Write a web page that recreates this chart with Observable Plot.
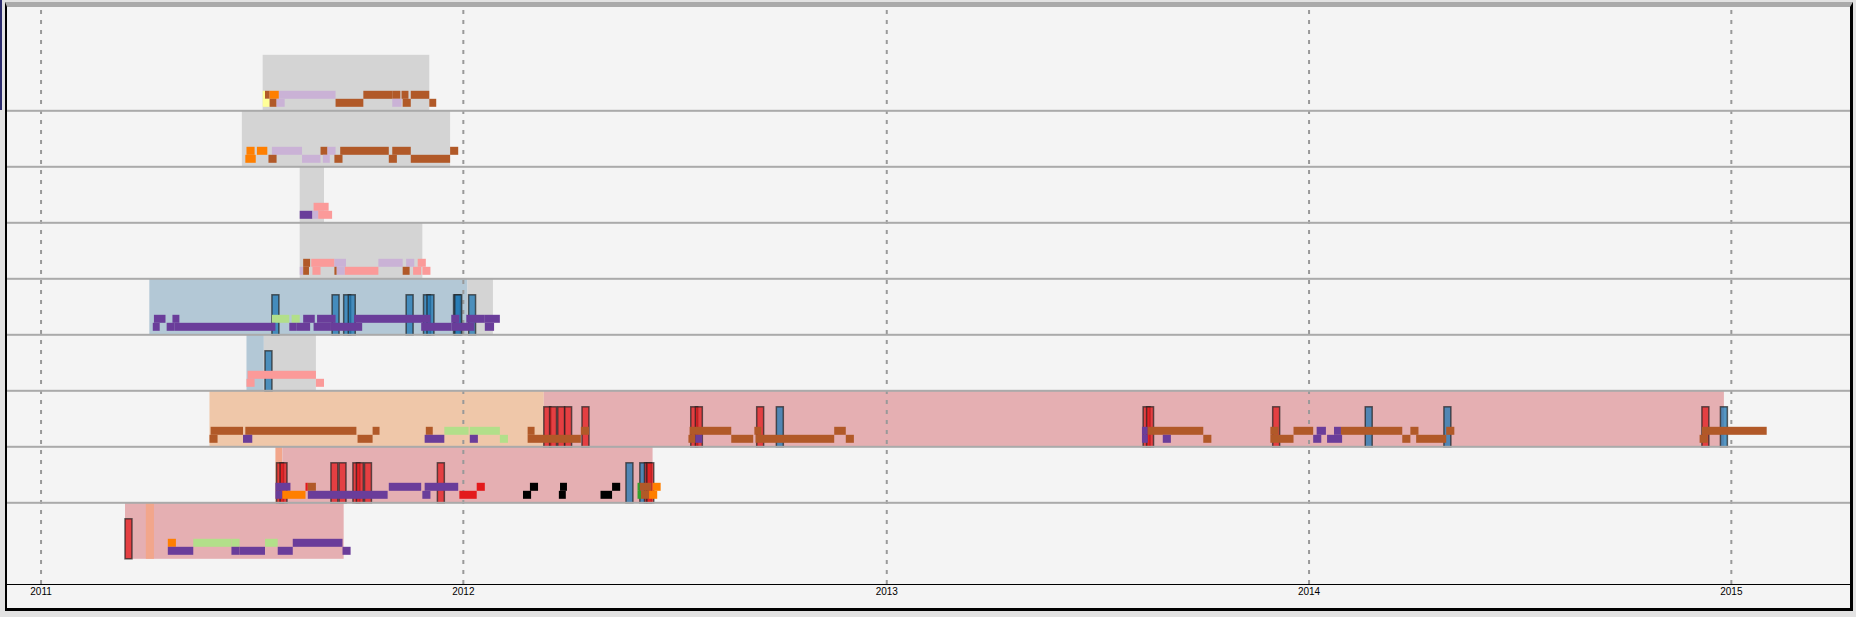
<!DOCTYPE html>
<html><head><meta charset="utf-8">
<script src="https://cdn.jsdelivr.net/npm/d3@7"></script>
<script src="https://cdn.jsdelivr.net/npm/@observablehq/plot@0.6"></script>
<style>
html,body{margin:0;padding:0;background:#e2e2e2;width:1856px;height:617px;overflow:hidden;}
#box{position:absolute;left:5px;top:2px;width:1843px;height:601px;border-top:5px solid #aaa;border-left:2px solid #000;border-right:3px solid #000;border-bottom:3px solid #000;background:#f4f4f4;}
#edge{position:absolute;left:0;top:0;width:2px;height:110px;background:#2c2c6e;}
#chart svg{display:block}
</style></head><body>
<div id="edge"></div>
<div id="box"><div id="chart"></div></div>
<script>
// ---- data ----
const rows = ["P1","P2","P3","P4","P5","P6","P7","P8","P9"];
const rowBoundaries = ["P1","P2","P3","P4","P5","P6","P7","P8"];
const xDomain = ["2010-12-03","2015-04-14"];
const yearTicks = ["2011-01-01","2012-01-01","2013-01-01","2014-01-01","2015-01-01"];

const spanKinds  = ["inactive","blue","peach","pink","salmon"];
const spanColors = ["#d4d4d4","#b3c8d6","#efc7a9","#e5afb2","#f2a68b"];
const eventKinds  = ["red","blue"];
const eventColors = ["#e31a1c","#1f78b4"];
const medKinds  = ["brown","orange","lavender","pink","purple","lightgreen","red","black","green","yellow"];
const medColors = ["#b15928","#ff7f00","#cab2d6","#fb9a99","#6a3d9a","#b2df8a","#e31a1c","#000000","#33a02c","#ffff99"];

// [row, start, end, kind]
const spans = [
  ["P1","2011-07-12","2011-12-03","inactive"],
  ["P2","2011-06-24","2011-12-21","inactive"],
  ["P3","2011-08-13","2011-09-03","inactive"],
  ["P4","2011-08-13","2011-11-27","inactive"],
  ["P5","2011-04-05","2012-01-05","blue"],
  ["P5","2012-01-05","2012-01-27","inactive"],
  ["P6","2011-06-28","2011-07-13","blue"],
  ["P6","2011-07-13","2011-08-27","inactive"],
  ["P7","2011-05-27","2012-03-11","peach"],
  ["P7","2012-03-11","2014-12-26","pink"],
  ["P8","2011-07-23","2011-07-29","salmon"],
  ["P8","2011-07-29","2012-06-13","pink"],
  ["P9","2011-03-15","2011-09-20","pink"],
  ["P9","2011-04-02","2011-04-09","salmon"]
];

// [row, date, kind]
const events = [
  ["P5","2011-07-20","blue"],["P5","2011-09-10","blue"],["P5","2011-09-20","blue"],["P5","2011-09-24","blue"],
  ["P5","2011-11-13","blue"],["P5","2011-11-28","blue"],["P5","2011-12-01","blue"],["P5","2011-12-24","blue"],
  ["P5","2011-12-25","blue"],["P5","2012-01-06","blue"],
  ["P6","2011-07-14","blue"],
  ["P7","2012-03-11","red"],["P7","2012-03-16","red"],["P7","2012-03-23","red"],["P7","2012-03-29","red"],
  ["P7","2012-04-13","red"],["P7","2012-07-16","red"],["P7","2012-07-20","red"],["P7","2012-09-11","red"],
  ["P7","2012-09-28","blue"],["P7","2013-08-11","red"],["P7","2013-08-14","red"],["P7","2013-12-01","red"],
  ["P7","2014-02-19","blue"],["P7","2014-04-28","blue"],["P7","2014-12-07","red"],["P7","2014-12-23","blue"],
  ["P8","2011-07-24","red"],["P8","2011-07-27","red"],["P8","2011-09-09","red"],["P8","2011-09-16","red"],
  ["P8","2011-09-28","red"],["P8","2011-10-01","red"],["P8","2011-10-08","red"],["P8","2011-12-10","red"],
  ["P8","2012-05-21","blue"],["P8","2012-06-02","blue"],["P8","2012-06-06","red"],["P8","2012-06-08","red"],
  ["P9","2011-03-15","red"]
];

// [row, lane (0 upper / 1 lower), start, end, kind]
const meds = [
  ["P1",0,"2011-07-12","2011-07-14","yellow"],["P1",0,"2011-07-14","2011-07-18","brown"],["P1",0,"2011-07-18","2011-07-26","orange"],
  ["P1",0,"2011-07-26","2011-09-13","lavender"],["P1",0,"2011-10-07","2011-11-01","brown"],["P1",0,"2011-11-01","2011-11-08","brown"],
  ["P1",0,"2011-11-09","2011-11-15","brown"],["P1",0,"2011-11-17","2011-12-03","brown"],
  ["P1",1,"2011-07-12","2011-07-18","yellow"],["P1",1,"2011-07-18","2011-07-24","brown"],["P1",1,"2011-07-24","2011-07-31","lavender"],
  ["P1",1,"2011-09-13","2011-10-07","brown"],["P1",1,"2011-11-01","2011-11-09","lavender"],["P1",1,"2011-11-10","2011-11-17","brown"],
  ["P1",1,"2011-12-03","2011-12-09","brown"],

  ["P2",0,"2011-06-28","2011-07-05","orange"],["P2",0,"2011-07-07","2011-07-16","orange"],["P2",0,"2011-07-20","2011-08-15","lavender"],
  ["P2",0,"2011-08-31","2011-09-06","brown"],["P2",0,"2011-09-06","2011-09-13","lavender"],["P2",0,"2011-09-17","2011-10-29","brown"],
  ["P2",0,"2011-11-01","2011-11-17","brown"],["P2",0,"2011-12-21","2011-12-28","brown"],
  ["P2",1,"2011-06-27","2011-07-06","orange"],["P2",1,"2011-07-17","2011-07-24","brown"],["P2",1,"2011-08-15","2011-08-31","lavender"],
  ["P2",1,"2011-09-02","2011-09-08","lavender"],["P2",1,"2011-09-12","2011-09-19","brown"],["P2",1,"2011-10-29","2011-11-05","brown"],
  ["P2",1,"2011-11-17","2011-12-21","brown"],

  ["P3",0,"2011-08-25","2011-09-07","pink"],
  ["P3",1,"2011-08-13","2011-08-24","purple"],["P3",1,"2011-08-24","2011-08-29","lavender"],["P3",1,"2011-08-29","2011-09-10","pink"],

  ["P4",0,"2011-08-16","2011-08-22","brown"],["P4",0,"2011-08-23","2011-09-12","pink"],["P4",0,"2011-09-12","2011-09-22","lavender"],
  ["P4",0,"2011-10-20","2011-11-10","lavender"],["P4",0,"2011-11-13","2011-11-20","lavender"],["P4",0,"2011-11-23","2011-11-30","pink"],
  ["P4",1,"2011-08-13","2011-08-16","lavender"],["P4",1,"2011-08-16","2011-08-21","brown"],["P4",1,"2011-08-24","2011-08-31","pink"],
  ["P4",1,"2011-09-12","2011-09-14","brown"],["P4",1,"2011-09-14","2011-09-21","lavender"],["P4",1,"2011-09-21","2011-10-20","pink"],
  ["P4",1,"2011-11-10","2011-11-16","brown"],["P4",1,"2011-11-19","2011-11-26","pink"],["P4",1,"2011-11-27","2011-12-04","pink"],

  ["P5",0,"2011-04-09","2011-04-19","purple"],["P5",0,"2011-04-25","2011-05-01","purple"],["P5",0,"2011-07-20","2011-08-04","lightgreen"],
  ["P5",0,"2011-08-06","2011-08-13","lightgreen"],["P5",0,"2011-08-16","2011-08-26","purple"],["P5",0,"2011-08-28","2011-09-13","purple"],
  ["P5",0,"2011-09-29","2011-12-04","purple"],["P5",0,"2011-12-22","2011-12-29","purple"],["P5",0,"2012-01-04","2012-01-20","purple"],
  ["P5",0,"2012-01-20","2012-02-02","purple"],
  ["P5",1,"2011-04-08","2011-04-14","purple"],["P5",1,"2011-04-20","2011-04-27","purple"],["P5",1,"2011-04-27","2011-07-23","purple"],
  ["P5",1,"2011-08-04","2011-08-10","purple"],["P5",1,"2011-08-10","2011-08-22","purple"],["P5",1,"2011-08-25","2011-09-09","purple"],
  ["P5",1,"2011-09-09","2011-10-06","purple"],["P5",1,"2011-11-26","2011-12-22","purple"],["P5",1,"2011-12-22","2012-01-11","purple"],
  ["P5",1,"2012-01-20","2012-01-28","purple"],

  ["P6",0,"2011-06-29","2011-08-27","pink"],
  ["P6",1,"2011-06-28","2011-07-05","pink"],["P6",1,"2011-08-27","2011-09-03","pink"],

  ["P7",0,"2011-05-28","2011-06-25","brown"],["P7",0,"2011-06-27","2011-10-01","brown"],["P7",0,"2011-10-15","2011-10-21","brown"],
  ["P7",0,"2011-11-30","2011-12-06","brown"],["P7",0,"2011-12-16","2012-01-06","lightgreen"],["P7",0,"2012-01-07","2012-02-02","lightgreen"],
  ["P7",0,"2012-02-26","2012-03-03","brown"],["P7",0,"2012-04-12","2012-04-19","brown"],["P7",0,"2012-07-15","2012-08-20","brown"],
  ["P7",0,"2012-09-09","2012-09-15","brown"],["P7",0,"2012-11-17","2012-11-27","brown"],["P7",0,"2013-08-10","2013-08-15","purple"],
  ["P7",0,"2013-08-15","2013-10-02","brown"],["P7",0,"2013-11-29","2013-12-06","brown"],["P7",0,"2013-12-19","2014-01-05","brown"],
  ["P7",0,"2014-01-08","2014-01-16","purple"],["P7",0,"2014-01-23","2014-01-29","purple"],["P7",0,"2014-01-29","2014-03-23","brown"],
  ["P7",0,"2014-03-30","2014-04-06","brown"],["P7",0,"2014-04-30","2014-05-07","brown"],["P7",0,"2014-12-07","2015-02-01","brown"],
  ["P7",1,"2011-05-27","2011-06-03","brown"],["P7",1,"2011-06-25","2011-07-03","purple"],["P7",1,"2011-10-02","2011-10-15","brown"],
  ["P7",1,"2011-11-29","2011-12-16","purple"],["P7",1,"2012-01-07","2012-01-14","purple"],["P7",1,"2012-02-02","2012-02-09","lightgreen"],
  ["P7",1,"2012-02-26","2012-04-12","brown"],["P7",1,"2012-07-14","2012-07-20","brown"],["P7",1,"2012-07-20","2012-07-26","purple"],
  ["P7",1,"2012-08-20","2012-09-08","brown"],["P7",1,"2012-09-10","2012-11-17","brown"],["P7",1,"2012-11-27","2012-12-04","brown"],
  ["P7",1,"2013-08-10","2013-08-15","purple"],["P7",1,"2013-08-28","2013-09-04","purple"],["P7",1,"2013-10-02","2013-10-09","brown"],
  ["P7",1,"2013-11-29","2013-12-19","brown"],["P7",1,"2014-01-05","2014-01-12","purple"],["P7",1,"2014-01-17","2014-01-30","purple"],
  ["P7",1,"2014-03-23","2014-03-30","brown"],["P7",1,"2014-04-04","2014-04-30","brown"],["P7",1,"2014-12-05","2014-12-12","brown"],

  ["P8",0,"2011-07-23","2011-08-05","purple"],["P8",0,"2011-08-18","2011-08-20","red"],["P8",0,"2011-08-20","2011-08-27","brown"],
  ["P8",0,"2011-10-29","2011-11-26","purple"],["P8",0,"2011-11-29","2011-12-28","purple"],["P8",0,"2012-01-13","2012-01-20","red"],
  ["P8",0,"2012-02-28","2012-03-06","black"],["P8",0,"2012-03-25","2012-03-31","black"],["P8",0,"2012-05-09","2012-05-16","black"],
  ["P8",0,"2012-05-31","2012-06-02","green"],["P8",0,"2012-06-02","2012-06-12","brown"],["P8",0,"2012-06-13","2012-06-20","orange"],
  ["P8",1,"2011-07-23","2011-07-29","purple"],["P8",1,"2011-07-29","2011-08-18","orange"],["P8",1,"2011-08-20","2011-10-28","purple"],
  ["P8",1,"2011-11-27","2011-12-04","purple"],["P8",1,"2011-12-29","2012-01-13","red"],["P8",1,"2012-02-22","2012-02-29","black"],
  ["P8",1,"2012-03-24","2012-03-30","black"],["P8",1,"2012-04-29","2012-05-09","black"],["P8",1,"2012-05-31","2012-06-03","green"],
  ["P8",1,"2012-06-03","2012-06-10","brown"],["P8",1,"2012-06-10","2012-06-17","orange"],

  ["P9",0,"2011-04-21","2011-04-28","orange"],["P9",0,"2011-05-13","2011-06-15","lightgreen"],["P9",0,"2011-06-15","2011-06-22","lightgreen"],
  ["P9",0,"2011-07-14","2011-07-25","lightgreen"],["P9",0,"2011-08-07","2011-09-19","purple"],
  ["P9",1,"2011-04-21","2011-05-13","purple"],["P9",1,"2011-06-15","2011-06-22","purple"],["P9",1,"2011-06-22","2011-07-14","purple"],
  ["P9",1,"2011-07-25","2011-08-07","purple"],["P9",1,"2011-09-19","2011-09-26","purple"]
];

// ---- build tables ----
const D = s => new Date(s + "T00:00:00Z");
const spanData = spans.map(([row, s, e, kind]) => ({row, start: D(s), end: D(e), key: "span:" + kind}));
const eventData = events.map(([row, d, kind]) => ({row, date: D(d), end: d3.utcDay.offset(D(d), 6), key: "event:" + kind}));
const medData = meds.map(([row, lane, s, e, kind]) => ({row, lane, start: D(s), end: D(e), key: "med:" + kind}));

const colorDomain = [...spanKinds.map(k => "span:" + k), ...eventKinds.map(k => "event:" + k), ...medKinds.map(k => "med:" + k)];
const colorRange = [...spanColors, ...eventColors, ...medColors];

const chart = Plot.plot({
  width: 1843,
  height: 601,
  marginLeft: 0, marginRight: 0, marginTop: 0, marginBottom: 24,
  style: {background: "#f4f4f4", fontFamily: "'Liberation Sans', Arial, sans-serif", fontSize: "10px", color: "#000", overflow: "visible"},
  x: {type: "utc", domain: xDomain.map(D), ticks: yearTicks.map(D), tickFormat: d3.utcFormat("%Y"), tickSize: 0, tickPadding: 3, line: true, label: null},
  y: {type: "band", domain: rows, range: [47.8, 551.8], padding: 0, round: false, axis: null},
  color: {type: "ordinal", domain: colorDomain, range: colorRange},
  marks: [
    Plot.barX(spanData, {x1: "start", x2: "end", y: "row", fill: "key"}),
    Plot.ruleX(yearTicks.map(D), {stroke: "#999", strokeWidth: 2, strokeDasharray: "4,6", strokeDashoffset: 7}),
    Plot.barX(eventData, {x1: "date", x2: "end", y: "row", fill: "key", fillOpacity: 0.75, stroke: "#222", strokeOpacity: 0.7, strokeWidth: 1.5, insetTop: 16}),
    Plot.barX(medData.filter(d => d.lane === 0), {x1: "start", x2: "end", y: "row", fill: "key", insetTop: 36, insetBottom: 12}),
    Plot.barX(medData.filter(d => d.lane === 1), {x1: "start", x2: "end", y: "row", fill: "key", insetTop: 44, insetBottom: 4}),
    Plot.cell(rowBoundaries, {y: d => d, fill: "#aaaaaa", insetTop: 55, insetBottom: -1})
  ]
});
document.getElementById("chart").appendChild(chart);
</script>
</body></html>
